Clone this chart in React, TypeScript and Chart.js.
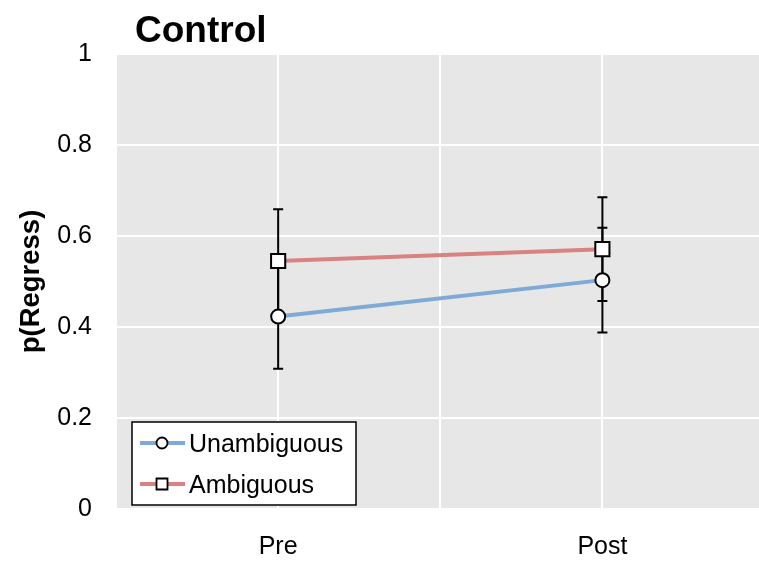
import React, { useEffect, useRef } from "react";
import { Chart, registerables } from "chart.js";

Chart.register(...registerables);

const categories = ["Pre", "Post"];
const seriesNames = ["Unambiguous", "Ambiguous"];
const unambMean = [0.423, 0.503];
const unambLow = [0.308, 0.388];
const unambHigh = [0.538, 0.618];
const ambMean = [0.545, 0.571];
const ambLow = [0.431, 0.457];
const ambHigh = [0.659, 0.685];
const yTickValues = [0, 0.2, 0.4, 0.6, 0.8, 1];
const yTickLabels = ["0", "0.2", "0.4", "0.6", "0.8", "1"];
const xGridValues = [1, 1.5, 2];
const xMin = 0.503;
const xMax = 2.483;
const titleText = "Control";
const yTitle = "p(Regress)";

const BLUE = "rgb(128,170,214)";
const RED = "rgb(217,130,130)";
const FONT = "'Liberation Sans', Arial, sans-serif";

export default function App() {
  const ref = useRef<HTMLCanvasElement | null>(null);

  useEffect(() => {
    document.body.style.margin = "0";
    const canvas = ref.current;
    if (!canvas) return;

    const lows = [unambLow, ambLow];
    const highs = [unambHigh, ambHigh];
    const colors = [BLUE, RED];
    const styles = ["circle", "rect"];

    const bgPlugin = {
      id: "bg",
      beforeDraw(chart: any) {
        const { ctx, chartArea: a } = chart;
        ctx.save();
        ctx.fillStyle = "#E7E7E7";
        ctx.fillRect(a.left, a.top, a.right - a.left, a.bottom - a.top);
        ctx.restore();
      },
    };

    const errPlugin = {
      id: "err",
      beforeDatasetsDraw(chart: any) {
        const { ctx } = chart;
        const xs = chart.scales.x;
        const ys = chart.scales.y;
        ctx.save();
        ctx.strokeStyle = "#000";
        ctx.lineWidth = 2;
        for (let s = 0; s < lows.length; s++) {
          for (let j = 0; j < categories.length; j++) {
            const x = xs.getPixelForValue(j + 1);
            const y1 = ys.getPixelForValue(lows[s][j]);
            const y2 = ys.getPixelForValue(highs[s][j]);
            ctx.beginPath();
            ctx.moveTo(x, y1);
            ctx.lineTo(x, y2);
            ctx.moveTo(x - 5, y1);
            ctx.lineTo(x + 5, y1);
            ctx.moveTo(x - 5, y2);
            ctx.lineTo(x + 5, y2);
            ctx.stroke();
          }
        }
        ctx.restore();
      },
    };

    const decoPlugin = {
      id: "deco",
      afterDraw(chart: any) {
        const { ctx, chartArea: a } = chart;
        ctx.save();
        ctx.fillStyle = "#000";
        ctx.font = `bold 37px ${FONT}`;
        ctx.textBaseline = "alphabetic";
        ctx.textAlign = "left";
        ctx.fillText(titleText, a.left + 18, 41.5);

        const bx = a.left + 15;
        const by = a.bottom - 87;
        const bw = 224;
        const bh = 83;
        ctx.fillStyle = "#fff";
        ctx.fillRect(bx, by, bw, bh);
        ctx.strokeStyle = "#000";
        ctx.lineWidth = 1.5;
        ctx.strokeRect(bx, by, bw, bh);
        const rowY = [by + 21, by + 62];
        for (let s = 0; s < seriesNames.length; s++) {
          const y = rowY[s];
          ctx.strokeStyle = colors[s];
          ctx.lineWidth = 4;
          ctx.beginPath();
          ctx.moveTo(bx + 8, y);
          ctx.lineTo(bx + 53, y);
          ctx.stroke();
          ctx.fillStyle = "#fff";
          ctx.strokeStyle = "#000";
          ctx.lineWidth = 1.8;
          const cx = bx + 30;
          ctx.beginPath();
          if (styles[s] === "circle") {
            ctx.arc(cx, y, 5.5, 0, Math.PI * 2);
          } else {
            ctx.rect(cx - 5.5, y - 5.5, 11, 11);
          }
          ctx.fill();
          ctx.stroke();
          ctx.fillStyle = "#000";
          ctx.font = `25px ${FONT}`;
          ctx.textBaseline = "middle";
          ctx.fillText(seriesNames[s], bx + 57, y + 2.5);
        }
        ctx.restore();
      },
    };

    const chart = new Chart(canvas, {
      type: "line",
      data: {
        datasets: [
          {
            label: seriesNames[0],
            data: unambMean.map((v, i) => ({ x: i + 1, y: v })),
            borderColor: BLUE,
            borderWidth: 4,
            pointStyle: "circle",
            pointRadius: 7,
            pointBackgroundColor: "#fff",
            pointBorderColor: "#000",
            pointBorderWidth: 2,
          },
          {
            label: seriesNames[1],
            data: ambMean.map((v, i) => ({ x: i + 1, y: v })),
            borderColor: RED,
            borderWidth: 4,
            pointStyle: "rect",
            pointRadius: 10,
            pointBackgroundColor: "#fff",
            pointBorderColor: "#000",
            pointBorderWidth: 2,
          },
        ],
      },
      options: {
        responsive: false,
        animation: false,
        layout: { autoPadding: false, padding: { top: 54, right: 0, left: 0, bottom: 0 } },
        plugins: {
          legend: { display: false },
          title: { display: false },
          tooltip: { enabled: false },
        },
        scales: {
          x: {
            type: "linear",
            min: xMin,
            max: xMax,
            afterBuildTicks: (s: any) => {
              s.ticks = xGridValues.map((v) => ({ value: v }));
            },
            afterFit: (s: any) => {
              s.height = 57;
              s.paddingLeft = 0;
              s.paddingRight = 0;
            },
            ticks: {
              autoSkip: false,
              maxRotation: 0,
              padding: 23,
              color: "#000",
              font: { family: FONT, size: 25 },
              callback: (v: any) => {
                const idx = Number(v) - 1;
                return Number.isInteger(idx) && categories[idx] ? categories[idx] : "";
              },
            },
            grid: { color: "#fff", lineWidth: 2, drawTicks: false },
            border: { display: false },
          },
          y: {
            type: "linear",
            min: 0,
            max: 1,
            afterBuildTicks: (s: any) => {
              s.ticks = yTickValues.map((v) => ({ value: v }));
            },
            afterFit: (s: any) => {
              s.width = 117;
            },
            ticks: {
              padding: 25,
              color: "#000",
              font: { family: FONT, size: 25 },
              callback: (v: any) => {
                const i = yTickValues.findIndex((t) => Math.abs(t - Number(v)) < 1e-9);
                return i >= 0 ? yTickLabels[i] : "";
              },
            },
            grid: { color: "#fff", lineWidth: 2, drawTicks: false },
            border: { display: false },
            title: {
              display: true,
              text: yTitle,
              color: "#000",
              font: { family: FONT, size: 27.5, weight: "bold" },
              padding: { top: 15, bottom: 0 },
            },
          },
        },
      },
      plugins: [bgPlugin, errPlugin, decoPlugin],
    } as any);

    return () => chart.destroy();
  }, []);

  return <canvas ref={ref} width={759} height={566} style={{ display: "block" }} />;
}
